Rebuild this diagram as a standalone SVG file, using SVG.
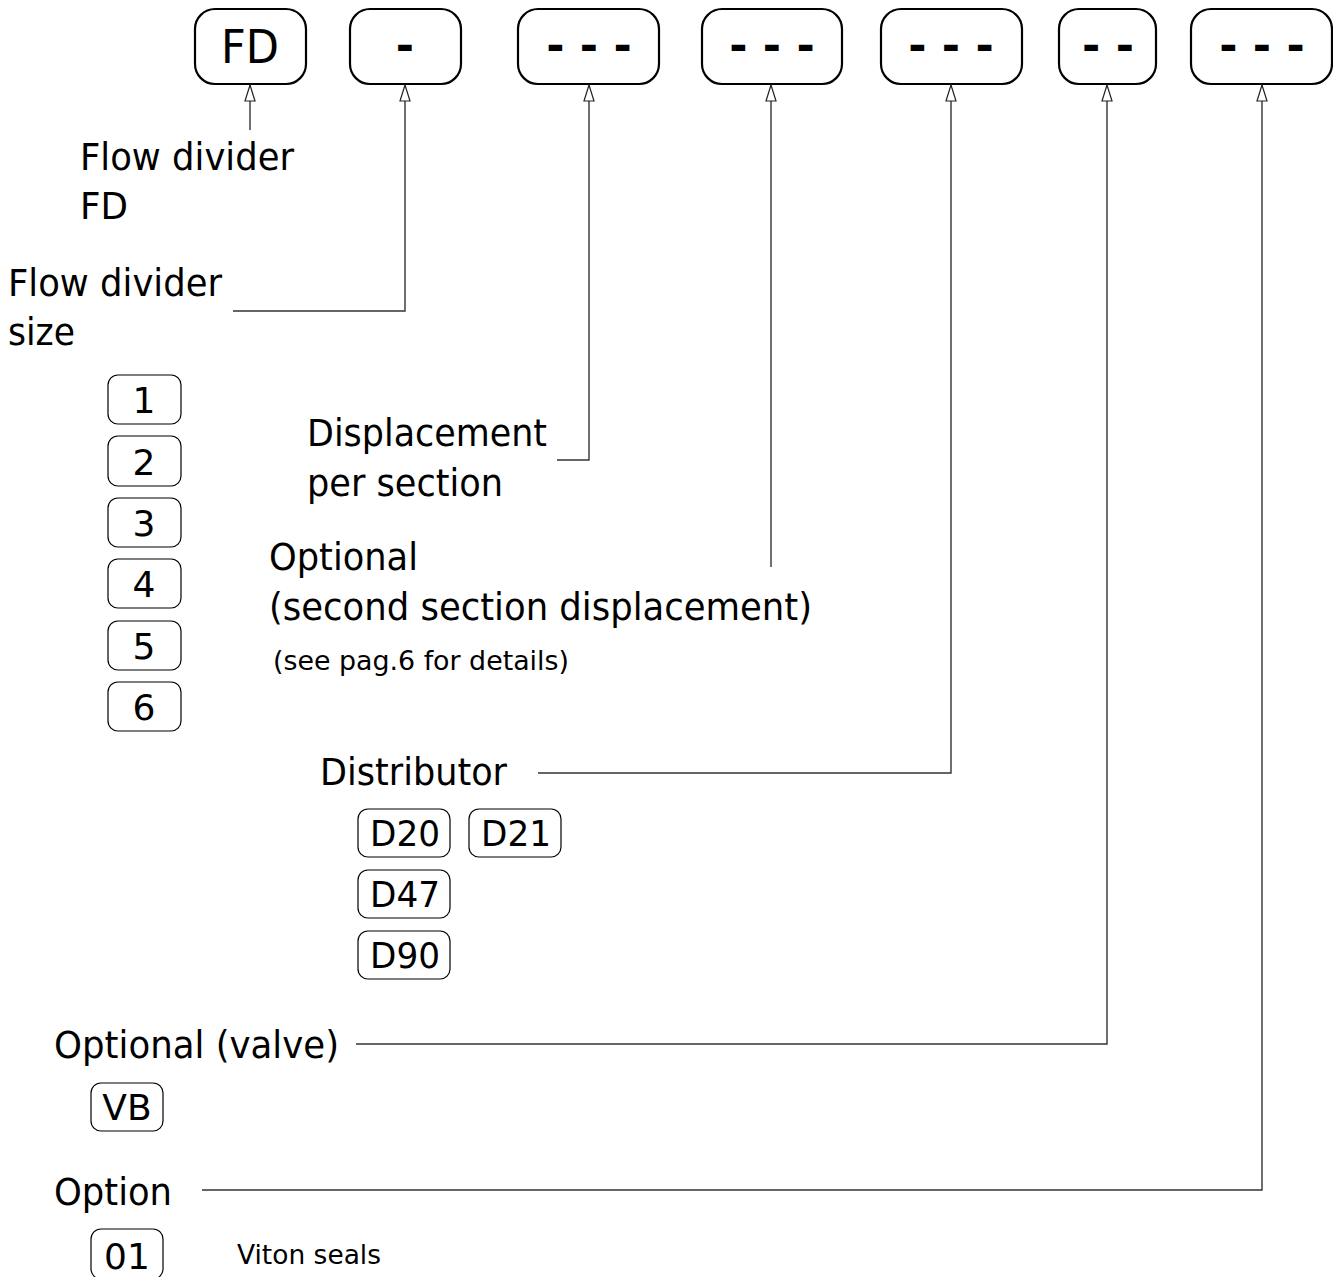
<svg xmlns="http://www.w3.org/2000/svg" width="1333" height="1277" viewBox="0 0 1333 1277">
<style>
.big{fill:#fff;stroke:#000;stroke-width:2.2}
.sm{fill:#fff;stroke:#000;stroke-width:1.2}
.t{font-family:"DejaVu Sans","Liberation Sans",sans-serif;fill:#000}
.lbl{font-size:37px}
.note{font-size:26px}
.code{font-size:36px;text-anchor:middle}
.head{font-size:46px;text-anchor:middle}
.dash{font-size:44px;font-weight:bold;text-anchor:middle}
.con{fill:none;stroke:#333;stroke-width:1.4}
</style>
<defs>
<marker id="ah" viewBox="0 0 18 12" refX="17" refY="6" markerWidth="18" markerHeight="12" markerUnits="userSpaceOnUse" orient="auto">
<path d="M1,1 L17,6 L1,11 Z" fill="#fff" stroke="#222" stroke-width="1.2"/>
</marker>
</defs>

<g id="box-fd"><rect class="big" x="195" y="9" width="111" height="75" rx="20"/><text class="t head" x="250" y="63" textLength="58" lengthAdjust="spacingAndGlyphs">FD</text></g>
<g id="box-size"><rect class="big" x="350" y="9" width="111" height="75" rx="20"/><text class="t dash" x="405" y="61">-</text></g>
<g id="box-disp"><rect class="big" x="518" y="9" width="141" height="75" rx="20"/><text class="t dash" x="589" y="61">- - -</text></g>
<g id="box-disp2"><rect class="big" x="702" y="9" width="140" height="75" rx="20"/><text class="t dash" x="772" y="61">- - -</text></g>
<g id="box-dist"><rect class="big" x="881" y="9" width="141" height="75" rx="20"/><text class="t dash" x="951" y="61">- - -</text></g>
<g id="box-valve"><rect class="big" x="1059" y="9" width="97" height="75" rx="20"/><text class="t dash" x="1108" y="61">- -</text></g>
<g id="box-option"><rect class="big" x="1191" y="9" width="141" height="75" rx="20"/><text class="t dash" x="1262" y="61">- - -</text></g>

<g id="connectors">
<path class="con" d="M250,130 V85" marker-end="url(#ah)"/>
<path class="con" d="M233,311 H405 V85" marker-end="url(#ah)"/>
<path class="con" d="M557,460 H589 V85" marker-end="url(#ah)"/>
<path class="con" d="M771,567 V85" marker-end="url(#ah)"/>
<path class="con" d="M538,773 H951 V85" marker-end="url(#ah)"/>
<path class="con" d="M356,1044 H1107 V85" marker-end="url(#ah)"/>
<path class="con" d="M202,1190 H1262 V85" marker-end="url(#ah)"/>
</g>

<g id="label-fd"><text class="t lbl" x="80" y="170" textLength="214" lengthAdjust="spacingAndGlyphs">Flow divider</text><text class="t lbl" x="80" y="219" textLength="48" lengthAdjust="spacingAndGlyphs">FD</text></g>

<g id="label-size"><text class="t lbl" x="8" y="296" textLength="214" lengthAdjust="spacingAndGlyphs">Flow divider</text><text class="t lbl" x="8" y="345" textLength="67" lengthAdjust="spacingAndGlyphs">size</text></g>

<g id="size-options">
<rect class="sm" x="108" y="375" width="73" height="49" rx="10"/><text class="t code" x="144" y="413">1</text>
<rect class="sm" x="108" y="436" width="73" height="50" rx="10"/><text class="t code" x="144" y="475">2</text>
<rect class="sm" x="108" y="498" width="73" height="49" rx="10"/><text class="t code" x="144" y="536">3</text>
<rect class="sm" x="108" y="559" width="73" height="49" rx="10"/><text class="t code" x="144" y="597">4</text>
<rect class="sm" x="108" y="621" width="73" height="49" rx="10"/><text class="t code" x="144" y="659">5</text>
<rect class="sm" x="108" y="682" width="73" height="49" rx="10"/><text class="t code" x="144" y="720">6</text>
</g>

<g id="label-disp"><text class="t lbl" x="307" y="446" textLength="240" lengthAdjust="spacingAndGlyphs">Displacement</text><text class="t lbl" x="307" y="496" textLength="196" lengthAdjust="spacingAndGlyphs">per section</text></g>

<g id="label-disp2"><text class="t lbl" x="269" y="570" textLength="149" lengthAdjust="spacingAndGlyphs">Optional</text><text class="t lbl" x="269" y="620" textLength="543" lengthAdjust="spacingAndGlyphs">(second section displacement)</text><text class="t note" x="273" y="670" textLength="296" lengthAdjust="spacingAndGlyphs">(see pag.6 for details)</text></g>

<g id="label-dist"><text class="t lbl" x="320" y="785" textLength="187" lengthAdjust="spacingAndGlyphs">Distributor</text>
<rect class="sm" x="358" y="809" width="92" height="48" rx="10"/><text class="t code" x="405" y="846" textLength="70" lengthAdjust="spacingAndGlyphs">D20</text>
<rect class="sm" x="469" y="809" width="92" height="48" rx="10"/><text class="t code" x="516" y="846" textLength="70" lengthAdjust="spacingAndGlyphs">D21</text>
<rect class="sm" x="358" y="870" width="92" height="48" rx="10"/><text class="t code" x="405" y="907" textLength="70" lengthAdjust="spacingAndGlyphs">D47</text>
<rect class="sm" x="358" y="931" width="92" height="48" rx="10"/><text class="t code" x="405" y="968" textLength="70" lengthAdjust="spacingAndGlyphs">D90</text>
</g>

<g id="label-valve"><text class="t lbl" x="54" y="1058" textLength="285" lengthAdjust="spacingAndGlyphs">Optional (valve)</text>
<rect class="sm" x="91" y="1083" width="72" height="48" rx="10"/><text class="t code" x="127" y="1120">VB</text>
</g>

<g id="label-option"><text class="t lbl" x="54" y="1205" textLength="118" lengthAdjust="spacingAndGlyphs">Option</text>
<rect class="sm" x="91" y="1229" width="72" height="50" rx="10"/><text class="t code" x="127" y="1269">01</text>
<text class="t note" x="237" y="1264" textLength="144" lengthAdjust="spacingAndGlyphs">Viton seals</text>
</g>
</svg>
